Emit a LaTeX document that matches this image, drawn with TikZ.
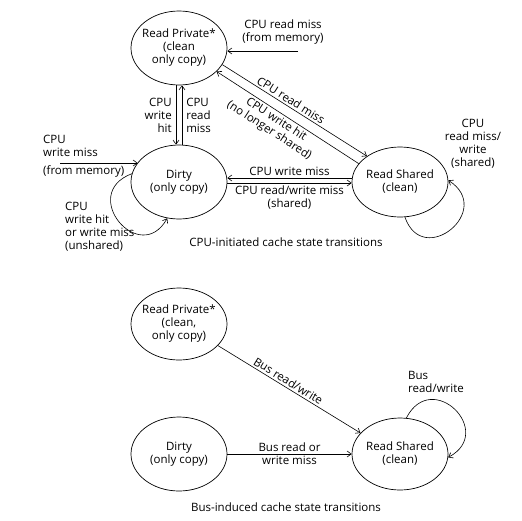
\documentclass[tikz,border=0pt]{standalone}
\usepackage{fontspec}
\setmainfont{Open Sans}
\usetikzlibrary{shapes.geometric,arrows.meta}
\begin{document}
\begin{tikzpicture}[x=1pt,y=-1pt,
  font=\fontsize{11.5}{13}\selectfont,
  state/.style={ellipse,draw,line width=0.7pt,minimum width=96pt,minimum height=74pt,inner xsep=-14pt,inner ysep=-10pt,align=center},
  arr/.style={line width=0.6pt,-{Straight Barb[length=4pt,width=6pt]}},
  rarr/.style={line width=0.6pt,{Straight Barb[length=4pt,width=6pt]}-},
  lbl/.style={inner sep=2pt}]
\useasboundingbox (0,0) rectangle (522,520);

% ---------- CPU-initiated ----------
\node[state] (rp) at (179,48) {Read Private*\\(clean\\only copy)};
\node[state] (dirty) at (179,182) {Dirty\\(only copy)};
\node[state,minimum height=70pt] (rs) at (400,182) {Read Shared\\(clean)};

\coordinate (rmsrc) at (298,51);
\draw[arr] (rmsrc) -- (rmsrc -| rp.east);
\node[lbl,align=center] (lrm) at (283,32) {CPU read miss\\(from memory)};

\draw[arr] (rp.-21) -- node[lbl,sloped,above,pos=0.45]{CPU read miss} (rs.142);
\draw[rarr] (rp.-32) -- node[lbl,sloped,below,pos=0.45,align=center]{CPU write hit\\(no longer shared)} (rs.156);

\draw[arr] ([xshift=-3]rp.south) -- node[lbl,left=2pt,align=right]{CPU\\write\\hit} ([xshift=-3]dirty.north);
\draw[rarr] ([xshift=3]rp.south) -- node[lbl,right=2pt,align=left]{CPU\\read\\miss} ([xshift=3]dirty.north);

\draw[rarr] ([yshift=4]dirty.east) -- node[lbl,above]{CPU write miss} ([yshift=4]rs.west);
\draw[arr] ([yshift=-1]dirty.east) -- node[lbl,below,align=center]{CPU read/write miss\\(shared)} ([yshift=-1]rs.west);

\coordinate (wmsrc) at (60,163);
\draw[arr] (wmsrc) -- (wmsrc -| dirty.155);
\node[lbl,anchor=south west,align=left] (lwm) at (41,159) {CPU\\write miss};
\node[lbl,anchor=north west] (lwm2) at (41,163) {(from memory)};

\draw[arr] (dirty.170) .. controls (78,194) and (140,267) .. (dirty.-108);
\node[lbl,anchor=west,align=left] (lloop) at (63,227) {CPU\\write hit\\or write miss\\(unshared)};

\draw[arr] (rs.-82) .. controls (423,269) and (495,210) .. (rs.2);
\node[lbl,align=center] (lrsloop) at (473,144) {CPU\\read miss/\\write\\(shared)};

\node (cap1) at (286,242) {CPU-initiated cache state transitions};

% ---------- Bus-induced ----------
\node[state,minimum height=72pt] (rp2) at (179,324) {Read Private*\\(clean,\\only copy)};
\node[state] (dirty2) at (179,454) {Dirty\\(only copy)};
\node[state,minimum height=72pt] (rs2) at (400,454) {Read Shared\\(clean)};

\draw[arr] (rp2.-29) -- node[lbl,sloped,above,pos=0.47]{Bus read/write} (rs2.152);
\draw[arr] (dirty2.east) -- node[lbl,align=center]{Bus read or\\write miss} (rs2.west);
\draw[arr] (rs2.80) .. controls (432,368) and (496,432) .. (rs2.-4);
\node[lbl,align=left] (lbusloop) at (436,382) {Bus\\read/write};

\node (cap2) at (286,507) {Bus-induced cache state transitions};
\end{tikzpicture}
\end{document}
